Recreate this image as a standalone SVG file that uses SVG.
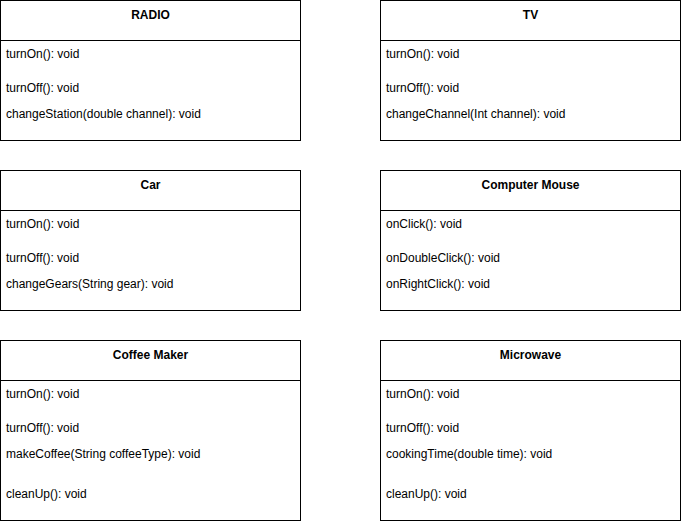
<svg xmlns="http://www.w3.org/2000/svg" width="681" height="524" viewBox="0 0 681 524">
<style>
.box{fill:#fff;stroke:#000;stroke-width:1}
.div{stroke:#000;stroke-width:1}
text{font-family:"Liberation Sans",Arial,sans-serif;font-size:12px;fill:#000}
.t{font-weight:bold;text-anchor:middle}
</style>
<rect width="681" height="524" fill="#fff"/>
<g id="radio">
<rect class="box" x="0.5" y="0.5" width="300" height="140"/>
<line class="div" x1="0.5" y1="40.5" x2="300.5" y2="40.5"/>
<text class="t" x="150.5" y="19">RADIO</text>
<text x="6" y="58">turnOn(): void</text>
<text x="6" y="92">turnOff(): void</text>
<text x="6" y="118">changeStation(double channel): void</text>
</g>
<g id="tv">
<rect class="box" x="380.5" y="0.5" width="300" height="140"/>
<line class="div" x1="380.5" y1="40.5" x2="680.5" y2="40.5"/>
<text class="t" x="530.5" y="19">TV</text>
<text x="386" y="58">turnOn(): void</text>
<text x="386" y="92">turnOff(): void</text>
<text x="386" y="118">changeChannel(Int channel): void</text>
</g>
<g id="car">
<rect class="box" x="0.5" y="170.5" width="300" height="140"/>
<line class="div" x1="0.5" y1="210.5" x2="300.5" y2="210.5"/>
<text class="t" x="150.5" y="189">Car</text>
<text x="6" y="228">turnOn(): void</text>
<text x="6" y="262">turnOff(): void</text>
<text x="6" y="288">changeGears(String gear): void</text>
</g>
<g id="mouse">
<rect class="box" x="380.5" y="170.5" width="300" height="140"/>
<line class="div" x1="380.5" y1="210.5" x2="680.5" y2="210.5"/>
<text class="t" x="530.5" y="189">Computer Mouse</text>
<text x="386" y="228">onClick(): void</text>
<text x="386" y="262">onDoubleClick(): void</text>
<text x="386" y="288">onRightClick(): void</text>
</g>
<g id="coffee">
<rect class="box" x="0.5" y="340.5" width="300" height="180"/>
<line class="div" x1="0.5" y1="380.5" x2="300.5" y2="380.5"/>
<text class="t" x="150.5" y="359">Coffee Maker</text>
<text x="6" y="398">turnOn(): void</text>
<text x="6" y="432">turnOff(): void</text>
<text x="6" y="458">makeCoffee(String coffeeType): void</text>
<text x="6" y="498">cleanUp(): void</text>
</g>
<g id="microwave">
<rect class="box" x="380.5" y="340.5" width="300" height="180"/>
<line class="div" x1="380.5" y1="380.5" x2="680.5" y2="380.5"/>
<text class="t" x="530.5" y="359">Microwave</text>
<text x="386" y="398">turnOn(): void</text>
<text x="386" y="432">turnOff(): void</text>
<text x="386" y="458">cookingTime(double time): void</text>
<text x="386" y="498">cleanUp(): void</text>
</g>
<g id="connectors"></g>
</svg>
